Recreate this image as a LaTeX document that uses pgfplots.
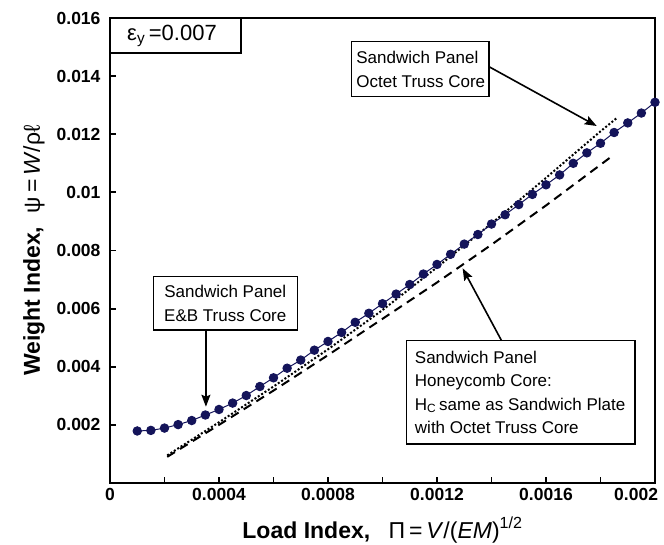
\documentclass[border=0pt]{standalone}
\usepackage{fontspec}
\setmainfont{Liberation Sans}
\usepackage{pgfplots}
\usepackage{pgfplotstable}
\pgfplotsset{compat=1.18}
\usetikzlibrary{arrows.meta}
\definecolor{navy}{RGB}{20,20,90}

% E&B truss core sandwich panel (computed points)
\pgfplotstableread{
x y
0.00010 0.00179
0.00015 0.00181
0.00020 0.00189
0.00025 0.00201
0.00030 0.00215
0.00035 0.00234
0.00040 0.00253
0.00045 0.00275
0.00050 0.00301
0.00055 0.00332
0.00060 0.00362
0.00065 0.00395
0.00070 0.00423
0.00075 0.00457
0.00080 0.00487
0.00085 0.00518
0.00090 0.00553
0.00095 0.00584
0.00100 0.00617
0.00105 0.00650
0.00110 0.00683
0.00115 0.00719
0.00120 0.00752
0.00125 0.00787
0.00130 0.00822
0.00135 0.00855
0.00140 0.00891
0.00145 0.00923
0.00150 0.00958
0.00155 0.00993
0.00160 0.01026
0.00165 0.01060
0.00170 0.01100
0.00175 0.01136
0.00180 0.01169
0.00185 0.01206
0.00190 0.01239
0.00195 0.01273
0.00200 0.01310
}\eandb

% Octet truss core sandwich panel
\pgfplotstableread{
x y
0.00021 0.00095
0.00040 0.00209
0.00060 0.00332
0.00080 0.00460
0.00100 0.00595
0.00120 0.00742
0.00140 0.00893
0.00160 0.01050
0.00180 0.01210
0.00186 0.01256
}\octet

% Honeycomb core sandwich panel
\pgfplotstableread{
x y
0.00021 0.00090
0.00040 0.00200
0.00060 0.00318
0.00080 0.00440
0.00100 0.00565
0.00120 0.00690
0.00140 0.00820
0.00160 0.00955
0.00180 0.01095
0.00185 0.01130
}\honey

\begin{document}
\begin{tikzpicture}
\useasboundingbox (-110pt,-61pt) rectangle (554pt,483pt);
\begin{axis}[
  scale only axis,
  width=545pt, height=465pt,
  xmin=0, xmax=0.002, ymin=0, ymax=0.016,
  clip=false,
  scaled ticks=false,
  axis line style={line width=2.6pt},
  tick pos=left,
  tick align=inside,
  major tick length=6pt, minor tick length=6pt,
  every tick/.style={black, line width=1.8pt},
  xtick={0,0.0004,0.0008,0.0012,0.0016,0.002},
  xticklabels={0,0.0004,0.0008,0.0012,0.0016,\makebox[0pt][r]{0.002\kern-3pt}},
  minor xtick={0.0002,0.0006,0.001,0.0014,0.0018},
  ytick={0.002,0.004,0.006,0.008,0.01,0.012,0.014,0.016},
  yticklabels={0.002,0.004,0.006,0.008,0.01,0.012,0.014,0.016},
  tick label style={font=\fontsize{17.5}{20}\selectfont\bfseries},
  xticklabel style={yshift=-2pt},
  yticklabel style={xshift=-6pt},
  xlabel={{\bfseries Load Index,}\hspace{0.8em}Π\,=\,\textit{V}/(\textit{EM})\textsuperscript{1/2}},
  xlabel style={at={(axis description cs:0.5,0)}, anchor=base, yshift=-55pt,
    font=\fontsize{23}{26}\selectfont},
  ylabel={{\bfseries Weight Index,}\hspace{0.6em}ψ\,=\,\textit{W}/ρℓ},
  ylabel style={at={([xshift=-70pt]axis description cs:0,0.5)}, anchor=base,
    font=\fontsize{23}{26}\selectfont},
]
\addplot[black, line width=2pt, dash pattern=on 2pt off 2pt] table {\octet};
\addplot[black, line width=2pt, dash pattern=on 9pt off 6pt] table {\honey};
\addplot[navy, line width=1pt, mark=*, mark size=4.2pt,
  mark options={fill=navy, draw=navy}] table {\eandb};

% strain label
\draw[line width=1.8pt] (axis cs:0,0.016) rectangle (axis cs:0.000481,0.014786);
\node[anchor=west, inner sep=0pt, font=\fontsize{22}{24}\selectfont]
  at ([xshift=17pt]axis cs:0,0.015393) {ε\textsubscript{y}\,=0.007};

% callouts
\draw[line width=1.3pt] (axis cs:0.000887,0.015185) rectangle (axis cs:0.001391,0.013292);
\node[anchor=west, inner sep=0pt, align=left,
  font=\fontsize{17}{23.5}\selectfont] at ([xshift=4.5pt]axis cs:0.000887,0.0142385)
  {Sandwich Panel\\Octet Truss Core};
\draw[line width=1.6pt, -{Stealth[length=12pt,width=9pt,inset=2pt]}]
  (axis cs:0.001391,0.014324) -- (axis cs:0.001786,0.012284);

\draw[line width=1.3pt] (axis cs:0.000159,0.0071) rectangle (axis cs:0.000687,0.005265);
\node[inner sep=0pt, align=center,
  font=\fontsize{17}{23.5}\selectfont] at (axis cs:0.000423,0.0061825)
  {Sandwich Panel\\E\&B Truss Core};
\draw[line width=1.6pt, -{Stealth[length=12pt,width=9pt,inset=2pt]}]
  (axis cs:0.000352,0.005265) -- (axis cs:0.000352,0.002625);

\draw[line width=1.3pt] (axis cs:0.001089,0.004896) rectangle (axis cs:0.001927,0.001342);
\node[anchor=west, inner sep=0pt, align=left,
  font=\fontsize{17}{23.5}\selectfont] at ([xshift=8pt]axis cs:0.001089,0.003119)
  {Sandwich Panel\\Honeycomb Core:\\H\textsubscript{C}\,same as Sandwich Plate\\with Octet Truss Core};
\draw[line width=1.6pt, -{Stealth[length=12pt,width=9pt,inset=2pt]}]
  (axis cs:0.001437,0.004896) -- (axis cs:0.001294,0.007388);
\end{axis}
\end{tikzpicture}
\end{document}
